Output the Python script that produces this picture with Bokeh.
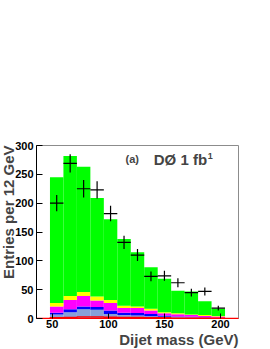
import math
from bokeh.plotting import figure
from bokeh.models import ColumnDataSource, Label, FixedTicker, Range1d, Title
from bokeh.embed import file_html
from bokeh.resources import INLINE

# ---- data ----
bin_centers = [54, 66, 78, 90, 102, 114, 126, 138, 150, 162, 174, 186, 198]
bin_width = 12
# stacked background components, bottom to top
light_blue = [7, 11, 16, 15, 8, 6, 5, 4, 3, 2.5, 2, 1.5, 1]
blue = [3, 5, 5, 5, 6, 4, 4.5, 4, 2, 1, 1, 0.5, 0.5]
magenta = [11, 16, 18, 11, 13, 8, 8.5, 6, 4, 4, 3, 2.5, 2]
yellow = [6, 7, 7, 7, 5, 4, 3, 3, 2, 1.5, 1, 1.5, 1]
green = [218, 243, 217, 171, 140, 116, 94, 72, 58, 39, 40, 24, 12.5]
red_line = [1, 1.5, 2.5, 2.5, 2, 1.5, 1.5, 1, 1, 0.5, 0.5, 0.5, 0.5]
# data points and their errors
data_y = [200, 269, 225, 223, 182, 132, 110, 73, 74, 62, 45, 47, 18]
data_err = [14, 16, 15, 15, 13.5, 11.5, 10.5, 8.5, 8.6, 7.9, 6.7, 6.9, 4.2]
x_ticks = [50, 100, 150, 200]
y_ticks = [0, 50, 100, 150, 200, 250, 300]

FONT = "Liberation Sans"

src = ColumnDataSource(dict(
    x=bin_centers, lb=light_blue, bl=blue, mg=magenta, ye=yellow, gr=green,
))

p = figure(width=270, height=349, output_backend="svg", toolbar_location=None,
           x_range=Range1d(36, 216), y_range=Range1d(0, 300),
           min_border_left=36, min_border_right=32, min_border_top=145,
           min_border_bottom=31)
p.background_fill_color = "white"
p.border_fill_color = "white"
p.outline_line_color = "#8c8c8c"
p.grid.visible = False

p.vbar_stack(["lb", "bl", "mg", "ye", "gr"], x="x", width=bin_width, source=src,
             color=["#87a0d8", "#0000ff", "#ff00ff", "#ffff00", "#00ff00"],
             line_width=0)

# red histogram line
xs, ys = [p.x_range.start], [0]
for c, v in zip(bin_centers, red_line):
    lo, hi = c - bin_width / 2, c + bin_width / 2
    xs += [lo, lo, hi]
    ys += [ys[-1], v, v]
xs += [xs[-1], p.x_range.end]
ys += [0, 0]
p.line(xs, ys, line_color="red", line_width=1.6)

# data crosses
lo_x = [c - bin_width / 2 for c in bin_centers]
hi_x = [c + bin_width / 2 for c in bin_centers]
p.segment(x0=lo_x, x1=hi_x, y0=data_y, y1=data_y, line_color="black", line_width=1.2)
p.segment(x0=bin_centers, x1=bin_centers,
          y0=[y - e for y, e in zip(data_y, data_err)],
          y1=[y + e for y, e in zip(data_y, data_err)],
          line_color="black", line_width=1.2)

for ax in (p.xaxis[0], p.yaxis[0]):
    ax.major_label_text_font = FONT
    ax.major_label_text_font_style = "bold"
    ax.major_label_text_font_size = "11px"
    ax.major_label_text_color = "black"
    ax.minor_tick_line_color = None
    ax.major_tick_out = 0
    ax.axis_line_color = "black"
    ax.major_tick_line_color = "black"
p.yaxis[0].minor_tick_out = 0
p.yaxis[0].minor_tick_in = 0
p.xaxis[0].ticker = FixedTicker(ticks=x_ticks)
p.yaxis[0].ticker = FixedTicker(ticks=y_ticks)
p.xaxis[0].major_tick_in = 5
p.yaxis[0].major_tick_in = 6
p.xaxis[0].major_label_standoff = 1
p.yaxis[0].major_label_standoff = 3
p.xaxis[0].axis_line_color = "red"

p.add_layout(Title(text="Dijet mass (GeV)", text_font=FONT, text_font_style="bold",
                   text_font_size="15px", align="right", vertical_align="top",
                   standoff=0, offset=0), "below")
p.add_layout(Title(text="Entries per 12 GeV", text_font=FONT, text_font_style="bold",
                   text_font_size="15px", align="right", vertical_align="top",
                   standoff=-12, offset=0), "left")

p.add_layout(Label(x=115.3, y=276, text="(a)", text_font=FONT,
                   text_font_style="bold", text_font_size="11px",
                   text_align="left", text_baseline="alphabetic"))
p.add_layout(Label(x=140.5, y=275, text="DØ 1 fb", text_font=FONT,
                   text_font_style="bold", text_font_size="15px",
                   text_align="left", text_baseline="alphabetic"))
p.add_layout(Label(x=188.6, y=282, text="1", text_font=FONT,
                   text_font_style="bold", text_font_size="9px",
                   text_align="left", text_baseline="alphabetic"))

open("out.html", "w").write(file_html(p, INLINE))
